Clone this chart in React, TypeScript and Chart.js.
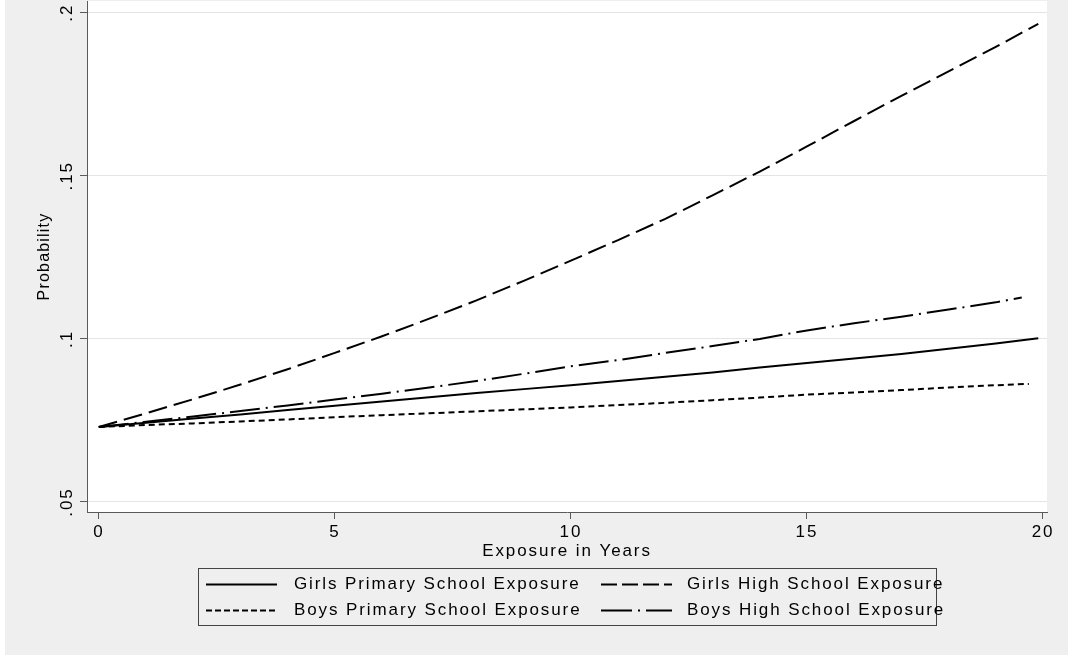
import React, { useEffect, useRef } from "react";
import { Chart, registerables } from "chart.js";

Chart.register(...registerables);

// ---- data ----
const X_GIRLS_PRIMARY = [0, 1, 2, 3, 4, 5, 6, 7, 8, 9, 10, 11, 12, 13, 14, 15, 16, 17, 18, 19, 19.9];
const GIRLS_PRIMARY = [0.073, 0.0743, 0.0756, 0.0768, 0.0782, 0.0795, 0.0808, 0.0821, 0.0834, 0.0846, 0.0858, 0.0871, 0.0884, 0.0897, 0.0912, 0.0926, 0.094, 0.0954, 0.097, 0.0986, 0.1002];

const X_GIRLS_HIGH = [0, 1, 2, 3, 4, 5, 6, 7, 8, 9, 10, 11, 12, 13, 14, 15, 16, 17, 18, 19, 19.9];
const GIRLS_HIGH = [0.073, 0.0772, 0.0815, 0.086, 0.0907, 0.0957, 0.1008, 0.1062, 0.1118, 0.1178, 0.124, 0.1303, 0.1368, 0.144, 0.1513, 0.159, 0.1668, 0.1745, 0.182, 0.1895, 0.1966];

const X_BOYS_PRIMARY = [0, 1, 2, 3, 4, 5, 6, 7, 8, 9, 10, 11, 12, 13, 14, 15, 16, 17, 18, 19, 19.7];
const BOYS_PRIMARY = [0.073, 0.0736, 0.0741, 0.0747, 0.0753, 0.076, 0.0766, 0.0772, 0.0778, 0.0784, 0.079, 0.0797, 0.0804, 0.0812, 0.082, 0.0829, 0.0836, 0.0843, 0.0851, 0.0858, 0.0862];

const X_BOYS_HIGH = [0, 1, 2, 3, 4, 5, 6, 7, 8, 9, 10, 11, 12, 13, 14, 15, 16, 17, 18, 19, 19.55];
const BOYS_HIGH = [0.073, 0.0746, 0.0762, 0.0779, 0.0796, 0.0814, 0.0832, 0.0851, 0.0871, 0.0893, 0.0916, 0.0935, 0.0957, 0.0978, 0.1, 0.1026, 0.1048, 0.1068, 0.109, 0.1112, 0.1127];

const SERIES_LABELS = [
  "Girls Primary School Exposure",
  "Girls High School Exposure",
  "Boys Primary School Exposure",
  "Boys High School Exposure",
];

const X_TICKS = [0, 5, 10, 15, 20];
const X_TICK_LABELS = ["0", "5", "10", "15", "20"];
const Y_TICKS = [0.05, 0.1, 0.15, 0.2];
const Y_TICK_LABELS = [".05", ".1", ".15", ".2"];

const X_TITLE = "Exposure in Years";
const Y_TITLE = "Probability";

// ---- styles ----
const FONT_FAMILY = '"Liberation Sans", Arial, sans-serif';
const FONT_SIZE = 17;
const LETTER_SPACING = "1.9px";
const TEXT_COLOR = "#000000";
const PANEL_COLOR = "#efefef";
const AXIS_COLOR = "#5a5a5a";
const GRID_COLOR = "#e4e4e4";
const DASHES = [[], [19, 7], [6, 4], [30, 6, 2, 6]];
const LEGEND_DASHES = [[], [16, 5], [6, 3], [31, 6, 2, 6]];

function pts(xs: number[], ys: number[]) {
  return xs.map((x, i) => ({ x, y: ys[i] }));
}

const decorPlugin = {
  id: "stataDecor",
  beforeDraw(chart: any) {
    const ctx = chart.ctx as CanvasRenderingContext2D;
    const { width, height, chartArea } = chart;
    ctx.save();
    ctx.fillStyle = "#ffffff";
    ctx.fillRect(0, 0, width, height);
    ctx.fillStyle = PANEL_COLOR;
    ctx.fillRect(5, 0, width - 5, height - 1);
    ctx.fillStyle = "#ffffff";
    ctx.fillRect(chartArea.left, chartArea.top, chartArea.right - chartArea.left, chartArea.bottom - chartArea.top);
    ctx.restore();
    (ctx as any).letterSpacing = LETTER_SPACING;
  },
  afterDraw(chart: any) {
    const ctx = chart.ctx as CanvasRenderingContext2D;
    const yScale = chart.scales.y;
    const xScale = chart.scales.x;
    const { chartArea } = chart;
    ctx.save();
    (ctx as any).letterSpacing = LETTER_SPACING;
    ctx.fillStyle = TEXT_COLOR;
    ctx.font = `${FONT_SIZE}px ${FONT_FAMILY}`;
    ctx.textAlign = "center";
    ctx.textBaseline = "middle";

    // rotated y tick labels
    yScale.ticks.forEach((t: any) => {
      const idx = Y_TICKS.indexOf(t.value);
      if (idx < 0) return;
      const py = yScale.getPixelForValue(t.value);
      ctx.save();
      ctx.translate(chartArea.left - 20, py);
      ctx.rotate(-Math.PI / 2);
      ctx.fillText(Y_TICK_LABELS[idx], 0, 0);
      ctx.restore();
    });

    // y title
    ctx.save();
    ctx.font = `${FONT_SIZE - 1}px ${FONT_FAMILY}`;
    (ctx as any).letterSpacing = "1.2px";
    ctx.translate(45, (chartArea.top + chartArea.bottom) / 2);
    ctx.rotate(-Math.PI / 2);
    ctx.fillText(Y_TITLE, 0, 0);
    ctx.restore();

    // x title
    ctx.fillText(X_TITLE, (xScale.left + xScale.right) / 2, chartArea.bottom + 39);

    // legend
    const boxL = 198.5, boxT = 568.5, boxW = 738, boxH = 57;
    ctx.save();
    ctx.strokeStyle = "#444444";
    ctx.lineWidth = 1;
    ctx.strokeRect(boxL, boxT, boxW, boxH);
    ctx.restore();

    const sampleX = [206, 601];
    const textX = [294, 687];
    const rowY = [584, 610];
    const sampleLen = 71;
    chart.data.datasets.forEach((ds: any, i: number) => {
      const col = i % 2;
      const row = Math.floor(i / 2);
      const y = rowY[row];
      ctx.save();
      ctx.strokeStyle = "#000000";
      ctx.lineWidth = 2;
      ctx.setLineDash(LEGEND_DASHES[i]);
      ctx.beginPath();
      ctx.moveTo(sampleX[col], y + 0.5);
      ctx.lineTo(sampleX[col] + sampleLen, y + 0.5);
      ctx.stroke();
      ctx.restore();
      ctx.textAlign = "left";
      ctx.fillText(ds.label, textX[col], y);
    });
    ctx.restore();
  },
};

export default function App() {
  const ref = useRef<HTMLCanvasElement | null>(null);

  useEffect(() => {
    if (!ref.current) return;
    const seriesX = [X_GIRLS_PRIMARY, X_GIRLS_HIGH, X_BOYS_PRIMARY, X_BOYS_HIGH];
    const seriesY = [GIRLS_PRIMARY, GIRLS_HIGH, BOYS_PRIMARY, BOYS_HIGH];
    const chart = new Chart(ref.current, {
      type: "line",
      data: {
        datasets: SERIES_LABELS.map((label, i) => ({
          label,
          data: pts(seriesX[i], seriesY[i]),
          borderColor: "#000000",
          borderWidth: 2,
          borderDash: DASHES[i],
          pointRadius: 0,
          tension: 0,
          fill: false,
        })),
      },
      options: {
        animation: false,
        responsive: false,
        devicePixelRatio: 1,
        layout: { padding: { top: 1, right: 21, left: 0, bottom: 0 } },
        plugins: {
          legend: { display: false },
          tooltip: { enabled: false },
          title: { display: false },
        },
        scales: {
          x: {
            type: "linear",
            min: -0.25,
            max: 20.085,
            afterBuildTicks: (s: any) => {
              s.ticks = X_TICKS.map((v) => ({ value: v }));
            },
            afterFit: (s: any) => {
              s.height = 144;
            },
            grid: {
              drawOnChartArea: false,
              drawTicks: true,
              tickLength: 7,
              tickColor: AXIS_COLOR,
              tickWidth: 1,
            },
            border: { color: AXIS_COLOR, width: 1 },
            ticks: {
              autoSkip: false,
              maxRotation: 0,
              padding: 3,
              color: TEXT_COLOR,
              font: { family: FONT_FAMILY, size: FONT_SIZE },
              callback: (v: any) => {
                const i = X_TICKS.indexOf(Number(v));
                return i >= 0 ? X_TICK_LABELS[i] : "";
              },
            },
          },
          y: {
            type: "linear",
            min: 0.04693,
            max: 0.20359,
            afterBuildTicks: (s: any) => {
              s.ticks = Y_TICKS.map((v) => ({ value: v }));
            },
            afterFit: (s: any) => {
              s.width = 87;
            },
            grid: {
              color: GRID_COLOR,
              lineWidth: 1,
              drawTicks: true,
              tickLength: 7,
              tickColor: AXIS_COLOR,
              tickWidth: 1,
            },
            border: { color: AXIS_COLOR, width: 1 },
            ticks: { display: false },
          },
        },
      },
      plugins: [decorPlugin],
    });
    return () => chart.destroy();
  }, []);

  return (
    <div style={{ position: "absolute", left: 0, top: 0, width: 1068, height: 656 }}>
      <canvas ref={ref} width={1068} height={656} style={{ display: "block", width: 1068, height: 656 }} />
    </div>
  );
}
